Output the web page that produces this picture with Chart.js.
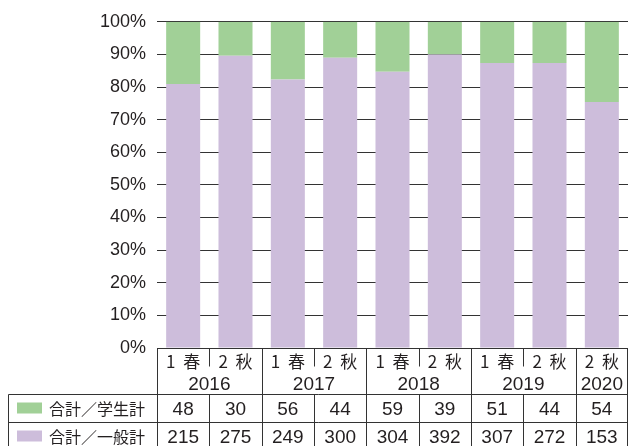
<!DOCTYPE html>
<html>
<head>
<meta charset="utf-8">
<script src="https://cdn.jsdelivr.net/npm/chart.js@4/dist/chart.umd.min.js"></script>
<style>
  body { margin: 0; background: #fff; }
  #wrap { width: 628px; height: 446px; }
</style>
</head>
<body>
<div id="wrap"><canvas id="chart" width="628" height="446"></canvas></div>
<script>
const terms = ['1 春', '2 秋', '1 春', '2 秋', '1 春', '2 秋', '1 春', '2 秋', '2 秋'];
const years = ['2016', '2016', '2017', '2017', '2018', '2018', '2019', '2019', '2020'];
// counts shown in the table
const students = [48, 30, 56, 44, 59, 39, 51, 44, 54];
const general = [215, 275, 249, 300, 304, 392, 307, 272, 153];
// share (%) of 一般 in each bar, as drawn in the picture
const generalShare = [80.9, 89.6, 82.3, 89.0, 84.7, 90.0, 87.4, 87.4, 75.4];
const seriesNames = ['合計／学生計', '合計／一般計'];
const seriesColors = ['#a1d097', '#cdbddb'];

const latin = '"Liberation Sans", "Noto Sans CJK JP", sans-serif';
const cjk = '"Noto Sans CJK JP", sans-serif';
const ink = '#231f20';

const tablePlugin = {
  id: 'dataTable',
  afterDraw(chart) {
    const ctx = chart.ctx;
    const a = chart.chartArea;
    const x = chart.scales.x;
    const n = terms.length;
    const w = (a.right - a.left) / n;
    const top = Math.round(a.bottom) + 0.5;
    const termBot = top + 18;
    const hdrBot = top + 46;
    const row2 = hdrBot + 28;
    const bot = chart.height;
    const legLeft = 8.5;

    ctx.save();
    ctx.strokeStyle = '#333';
    ctx.lineWidth = 1;
    const line = (x1, y1, x2, y2) => {
      ctx.beginPath(); ctx.moveTo(x1, y1); ctx.lineTo(x2, y2); ctx.stroke();
    };

    // horizontal rules
    line(a.left, top, a.right, top);
    line(legLeft, hdrBot, a.right, hdrBot);
    line(legLeft, row2, a.right, row2);
    line(legLeft, hdrBot, legLeft, bot);

    // vertical rules between columns
    for (let i = 0; i <= n; i++) {
      let xb = Math.round(a.left + i * w) + 0.5;
      if (i === n) xb = Math.round(a.right) - 0.5;
      if (i > 0 && i < n && years[i] === years[i - 1]) {
        line(xb, top, xb, termBot);
        line(xb, hdrBot, xb, bot);
      } else {
        line(xb, top, xb, bot);
      }
    }

    ctx.fillStyle = ink;
    ctx.textAlign = 'center';
    ctx.textBaseline = 'middle';

    // term labels
    ctx.font = '17px ' + cjk;
    ctx.letterSpacing = '2px';
    terms.forEach((t, i) => ctx.fillText(t, x.getPixelForValue(i) + 1, top + 13));
    ctx.letterSpacing = '0px';

    // year labels, centred over their group
    ctx.font = '19px ' + latin;
    let start = 0;
    for (let i = 1; i <= n; i++) {
      if (i === n || years[i] !== years[start]) {
        const cx = (x.getPixelForValue(start) + x.getPixelForValue(i - 1)) / 2;
        ctx.fillText(years[start], cx, top + 36);
        start = i;
      }
    }

    // values
    students.forEach((v, i) => ctx.fillText(String(v), x.getPixelForValue(i), hdrBot + 15));
    general.forEach((v, i) => ctx.fillText(String(v), x.getPixelForValue(i), row2 + 15));

    // legend column
    const rows = [hdrBot, row2];
    ctx.textAlign = 'left';
    ctx.font = '16px ' + cjk;
    seriesNames.forEach((name, k) => {
      ctx.fillStyle = seriesColors[k];
      ctx.fillRect(17, rows[k] + 8, 25, 11);
      ctx.fillStyle = ink;
      ctx.fillText(name, 49, rows[k] + 14);
    });
    ctx.restore();
  }
};

new Chart(document.getElementById('chart'), {
  type: 'bar',
  data: {
    labels: terms.map((t, i) => years[i] + ' ' + t),
    datasets: [
      {
        label: seriesNames[1],
        data: generalShare,
        backgroundColor: seriesColors[1],
        barPercentage: 0.65,
        categoryPercentage: 1
      },
      {
        label: seriesNames[0],
        data: generalShare.map(v => 100 - v),
        backgroundColor: seriesColors[0],
        barPercentage: 0.65,
        categoryPercentage: 1
      }
    ]
  },
  options: {
    responsive: false,
    animation: false,
    layout: { padding: { top: 18, bottom: 98, left: 0, right: 0 } },
    plugins: {
      legend: { display: false },
      tooltip: { enabled: false }
    },
    scales: {
      x: { stacked: true, display: false },
      y: {
        stacked: true,
        min: 0,
        max: 100,
        border: { display: false },
        grid: { color: '#333', lineWidth: 1, drawTicks: false },
        ticks: {
          stepSize: 10,
          padding: 11,
          color: ink,
          font: { family: latin, size: 18 },
          callback: (v) => v + '%'
        },
        afterFit(scale) { scale.width = 157; }
      }
    }
  },
  plugins: [tablePlugin]
});
</script>
</body>
</html>
